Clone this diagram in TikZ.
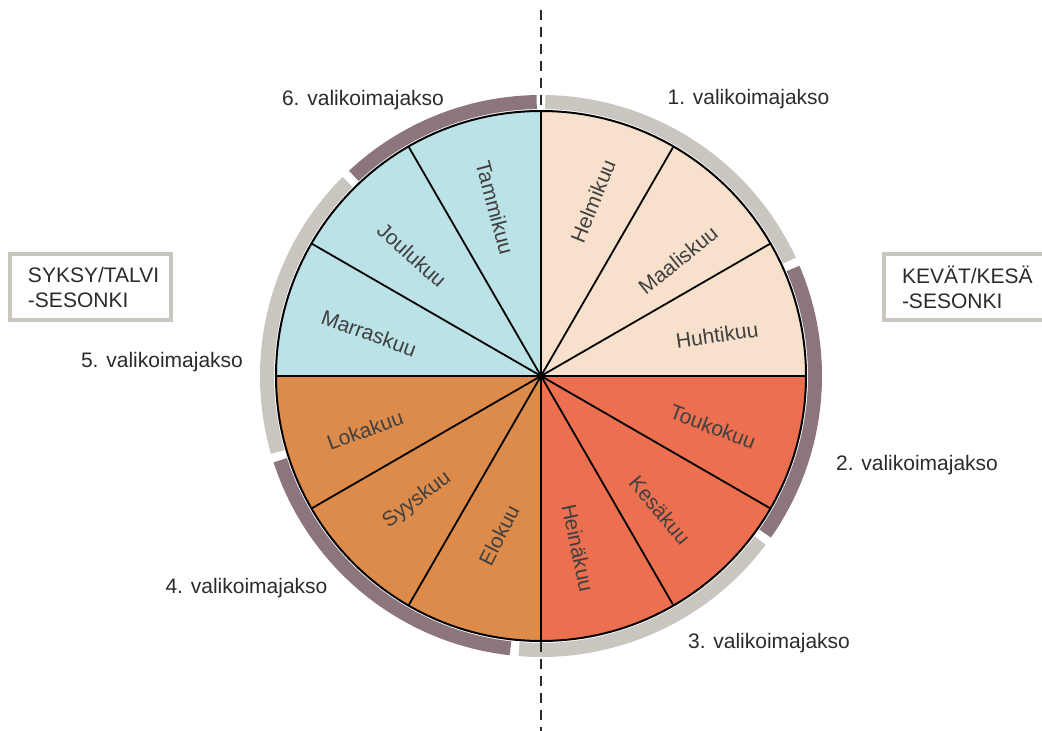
\documentclass[tikz,border=0pt]{standalone}
\usepackage{fontspec}
\setmainfont{Liberation Sans}
\usetikzlibrary{positioning}
\definecolor{Peach}{HTML}{F8E1CC}
\definecolor{Coral}{HTML}{EC6F50}
\definecolor{Ochre}{HTML}{DC8B4B}
\definecolor{Ice}{HTML}{BBE2E7}
\definecolor{Stone}{HTML}{C9C5BF}
\definecolor{Mauve}{HTML}{8C757C}
\definecolor{Ink}{HTML}{2B2B2B}
\tikzset{
    month/.style={font=\fontsize{21}{24}\selectfont, text=Ink!90, inner sep=0pt},
    period/.style={font=\fontsize{21}{24}\selectfont, text=Ink, inner sep=0pt, anchor=base},
    season/.style={draw=Stone, line width=4pt, align=left, text width=125pt, inner xsep=18pt, minimum height=66pt, font=\fontsize{21}{25}\selectfont, text=Ink, anchor=west},
    band/.style={line width=14pt},
    spoke/.style={line width=1.8pt, black},
    axis/.style={line width=2pt, dash pattern=on 10pt off 7pt, Ink},
}

\begin{document}
\begin{tikzpicture}[x=1pt, y=1pt]
        \useasboundingbox (-541,-355) rectangle (501,376);

        % Month slices
        \foreach \a/\col in {60/Peach, 30/Peach, 0/Peach, -30/Coral, -60/Coral, -90/Coral,
                             -120/Ochre, -150/Ochre, 180/Ochre, 150/Ice, 120/Ice, 90/Ice}
            \fill[\col] (0,0) -- (\a:265) arc[start angle=\a, delta angle=30, radius=265] -- cycle;
        \foreach \a in {0,30,...,330}
            \draw[spoke] (0,0) -- (\a:265);
        \node[circle, draw, line width=2pt, minimum size=530pt, inner sep=0pt] (wheel) at (0,0) {};

        % Outer bands
        \draw[band, Stone] (89.1:274) arc[start angle=89.1, end angle=24.9, radius=274];
        \draw[band, Mauve] (23.1:274) arc[start angle=23.1, end angle=-35.1, radius=274];
        \draw[band, Stone] (-36.9:274) arc[start angle=-36.9, end angle=-94.6, radius=274];
        \draw[band, Mauve] (-96.4:274) arc[start angle=-96.4, end angle=-162.1, radius=274];
        \draw[band, Stone] (196.1:274) arc[start angle=196.1, end angle=134.9, radius=274];
        \draw[band, Mauve] (133.1:274) arc[start angle=133.1, end angle=90.9, radius=274];

        % Axis
        \coordinate (axtop) at (0,366);
        \coordinate (axbot) at (0,-355);
        \draw[axis] (axtop) -- (wheel.north);
        \draw[axis] (wheel.south) -- (axbot);

        % Month names
        \foreach \txt/\x/\y/\r [count=\i] in {Helmikuu/52/175/68, Maaliskuu/137/116/39, Huhtikuu/176/41/8,
                                              Toukokuu/172/-51/-21, Kesäkuu/119/-134/-50, Heinäkuu/37/-172/-78,
                                              Elokuu/-42/-159/63, Syyskuu/-124/-124/37, Lokakuu/-176/-54/20,
                                              Marraskuu/-172/43/-20, Joulukuu/-129/121/-42, Tammikuu/-46/168/-75}
            \node[month, rotate=\r] (m\i) at (\x,\y) {\txt};

        % Periods
        \node[period] (p1) at (207.5,271) {1. valikoimajakso};
        \node[period] (p2) at (376,-94) {2. valikoimajakso};
        \node[period] (p3) at (228,-272) {3. valikoimajakso};
        \node[period] (p4) at (-294.5,-217) {4. valikoimajakso};
        \node[period] (p5) at (-379,8) {5. valikoimajakso};
        \node[period] (p6) at (-178,270) {6. valikoimajakso};

        % Seasons
        \node[season] (autumn) at (-533,89) {SYKSY/TALVI\\-SESONKI};
        \node[season] (spring) at (341,89) {KEVÄT/KESÄ\\-SESONKI};
\end{tikzpicture}
\end{document}
